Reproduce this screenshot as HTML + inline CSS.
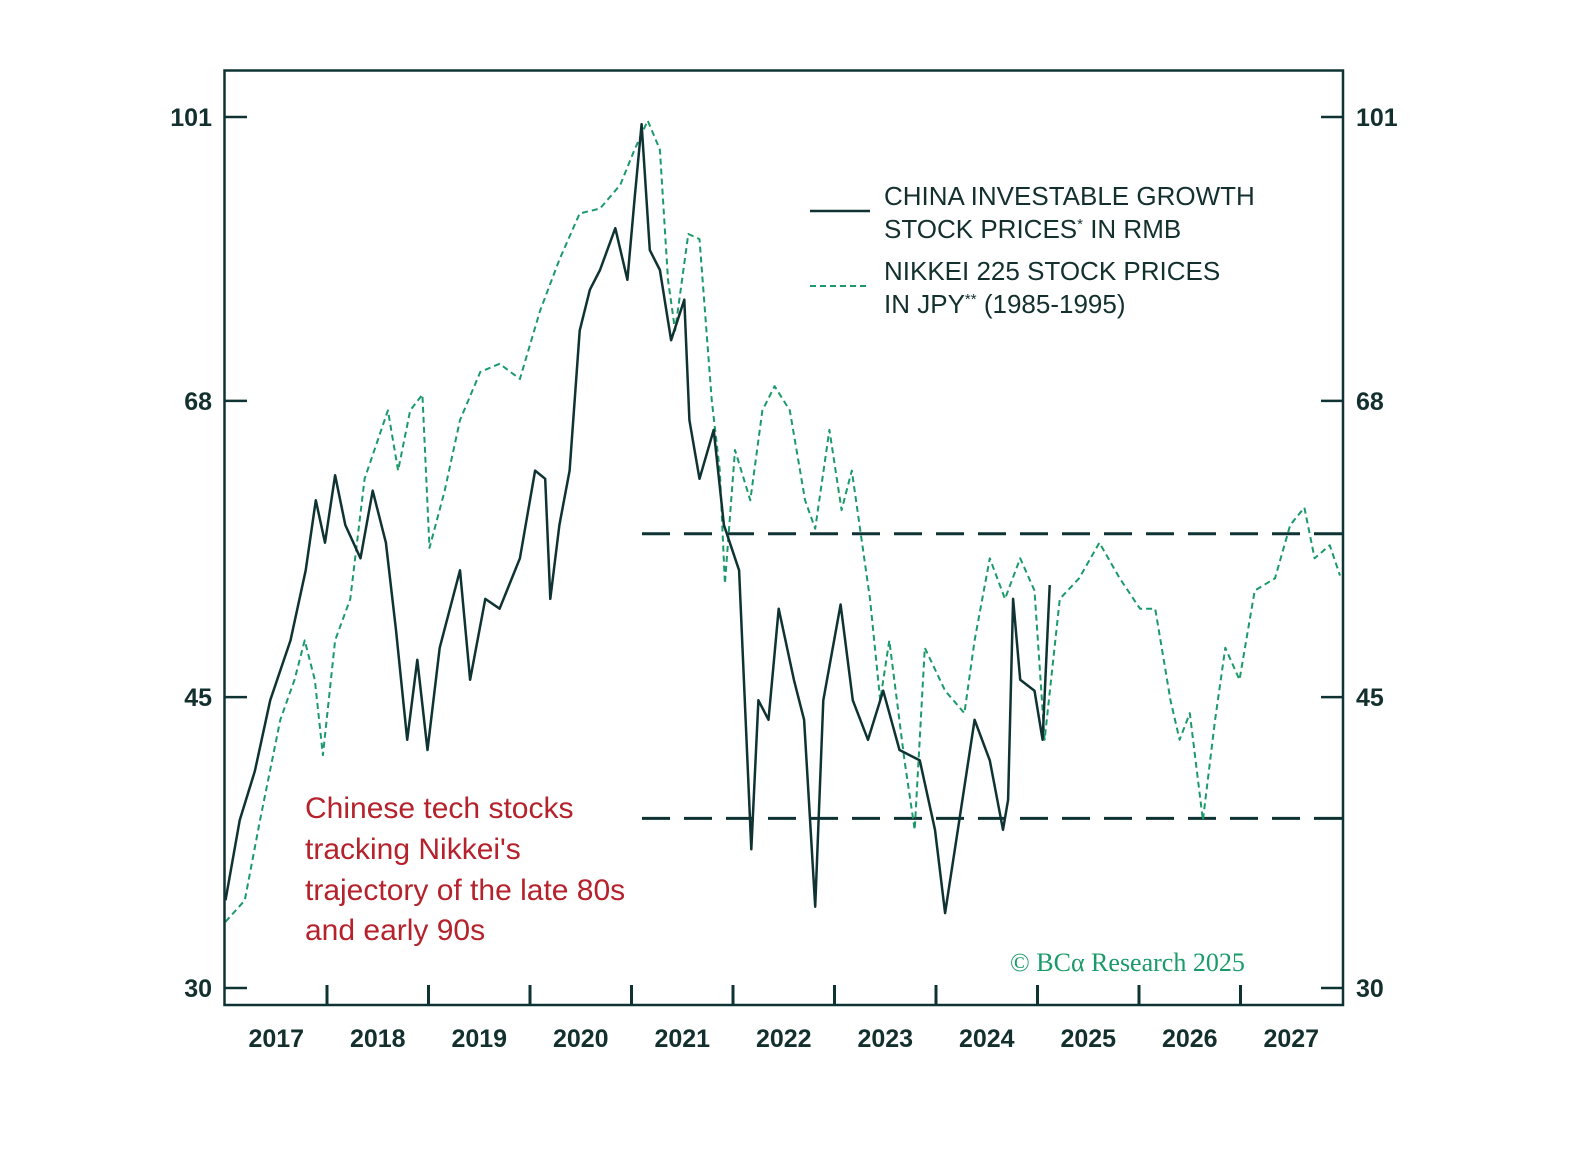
<!DOCTYPE html>
<html><head><meta charset="utf-8"><style>
html,body{margin:0;padding:0;background:#fff}
svg text{font-family:"Liberation Sans",sans-serif}
</style></head><body>
<svg id="chart" width="1588" height="1144" viewBox="0 0 1588 1144" xmlns="http://www.w3.org/2000/svg">
<rect width="1588" height="1144" fill="#fff"/>
<g id="plot"></g>
<rect x="224.5" y="70.5" width="1118.5" height="934.5" fill="none" stroke="#0f3333" stroke-width="2.5"/>
<g id="axes"></g>
<g>
<line x1="810" y1="211" x2="870" y2="211" stroke="#0f3333" stroke-width="2.5"/>
<text x="884" y="205" font-size="26" fill="#13302f">CHINA INVESTABLE GROWTH</text>
<text x="884" y="238" font-size="26" fill="#13302f">STOCK PRICES<tspan font-size="15" dy="-9">*</tspan><tspan dy="9"> IN RMB</tspan></text>
<line x1="810" y1="286" x2="870" y2="286" stroke="#1a9a6a" stroke-width="2" stroke-dasharray="6,4"/>
<text x="884" y="280" font-size="26" fill="#13302f">NIKKEI 225 STOCK PRICES</text>
<text x="884" y="313" font-size="26" fill="#13302f">IN JPY<tspan font-size="15" dy="-9">**</tspan><tspan dy="9"> (1985-1995)</tspan></text>
</g>
<g fill="#b5222b" font-size="30">
<text x="305" y="818">Chinese tech stocks</text>
<text x="305" y="859">tracking Nikkei's</text>
<text x="305" y="900">trajectory of the late 80s</text>
<text x="305" y="940">and early 90s</text>
</g>
<text x="1010" y="971" font-size="26" fill="#1a9a6a" style="font-family:'Liberation Serif',serif">© BCα Research 2025</text>
</svg>
<script>
const years = [2017,2018,2019,2020,2021,2022,2023,2024,2025,2026,2027];
const yTicks = [30,45,68,101];
const levelLines = [56.5,38.0];
const chinaT = [2017.0,2017.14,2017.29,2017.44,2017.64,2017.79,2017.89,2017.98,2018.08,2018.18,2018.33,2018.45,2018.58,2018.68,2018.79,2018.89,2018.99,2019.11,2019.31,2019.41,2019.56,2019.70,2019.90,2020.05,2020.15,2020.20,2020.29,2020.39,2020.49,2020.59,2020.69,2020.84,2020.96,2021.03,2021.10,2021.18,2021.28,2021.39,2021.52,2021.57,2021.67,2021.81,2021.91,2022.06,2022.18,2022.25,2022.35,2022.45,2022.60,2022.70,2022.81,2022.89,2023.06,2023.18,2023.33,2023.48,2023.64,2023.84,2023.99,2024.09,2024.23,2024.38,2024.53,2024.66,2024.71,2024.76,2024.83,2024.97,2025.05,2025.12];
const chinaV = [33.9,37.9,40.6,44.8,48.7,53.7,59.2,55.8,61.3,57.2,54.6,60.0,55.8,49.4,42.4,47.4,41.8,48.2,53.7,46.1,51.6,50.9,54.6,61.7,61.0,51.6,57.2,61.7,75.0,79.4,81.6,86.5,80.5,90.0,100,83.9,81.6,74.0,78.3,66.2,61.0,65.3,57.2,53.7,36.4,44.8,43.6,50.9,46.1,43.6,33.6,44.8,51.2,44.8,42.4,45.4,41.8,41.2,37.4,33.3,37.9,43.6,41.2,37.4,39.0,51.6,46.1,45.4,42.4,52.6];
const nikkeiT = [2017.0,2017.19,2017.34,2017.54,2017.68,2017.78,2017.88,2017.96,2018.08,2018.23,2018.37,2018.60,2018.70,2018.82,2018.94,2019.01,2019.16,2019.31,2019.51,2019.70,2019.90,2020.10,2020.29,2020.49,2020.69,2020.89,2021.03,2021.16,2021.28,2021.36,2021.43,2021.56,2021.67,2021.79,2021.87,2021.92,2022.02,2022.17,2022.29,2022.41,2022.56,2022.71,2022.81,2022.95,2023.07,2023.17,2023.35,2023.45,2023.54,2023.69,2023.79,2023.89,2024.09,2024.28,2024.38,2024.53,2024.68,2024.83,2024.97,2025.07,2025.22,2025.41,2025.61,2025.81,2026.01,2026.16,2026.31,2026.40,2026.50,2026.63,2026.75,2026.85,2026.99,2027.14,2027.34,2027.49,2027.63,2027.73,2027.88,2027.98];
const nikkeiV = [32.9,33.9,37.9,43.6,46.1,48.7,46.1,41.5,48.7,51.6,61.0,67.1,61.7,67.1,68.6,55.4,60.0,66.2,70.8,71.6,70.1,77.1,82.8,88.3,88.9,91.9,96.5,100.5,96.5,80.5,75.0,85.8,85.2,68.1,61.7,52.7,63.5,59.2,67.1,69.4,67.1,59.2,56.9,65.3,58.4,61.7,51.6,44.8,48.7,41.2,37.4,48.2,45.4,44.0,48.7,54.6,51.6,54.6,52.2,42.4,51.6,53.1,55.8,53.1,50.9,50.9,44.8,42.4,44.0,37.9,43.6,48.2,46.1,52.2,53.1,57.2,58.6,54.6,55.6,53.3];

const NS="http://www.w3.org/2000/svg";
const X0=225.5, PX_PER_YEAR=101.5;
function xs(t){return X0+(t-2017)*PX_PER_YEAR;}
function ys(v){return 988-Math.log(v/30)*717.5;}
function mk(tag,attrs,parent){const e=document.createElementNS(NS,tag);for(const k in attrs)e.setAttribute(k,attrs[k]);parent.appendChild(e);return e;}
const plot=document.getElementById('plot'), axes=document.getElementById('axes');

levelLines.forEach((v,i)=>{
  const l=mk('line',{x1:642,x2:1343,y1:ys(v),y2:ys(v),stroke:'#0f3333','stroke-width':3,'stroke-dasharray':'28,14'},plot);
  
  
});
function path(T,V){return T.map((t,i)=>(i?'L':'M')+xs(t).toFixed(1)+','+ys(V[i]).toFixed(1)).join('');}
const pn=mk('path',{d:path(nikkeiT,nikkeiV),fill:'none',stroke:'#1a9a6a','stroke-width':2,'stroke-dasharray':'6,4','stroke-linejoin':'round'},plot);


const pc=mk('path',{d:path(chinaT,chinaV),fill:'none',stroke:'#0f3333','stroke-width':2.5,'stroke-linejoin':'round'},plot);



yTicks.forEach(v=>{
  const y=ys(v);
  const a=mk('line',{x1:224,x2:247,y1:y,y2:y,stroke:'#0f3333','stroke-width':2.5},axes);
  
  
  const b=mk('line',{x1:1321,x2:1343,y1:y,y2:y,stroke:'#0f3333','stroke-width':2.5},axes);
  
  
  const t1=mk('text',{x:212,y:y+9,'text-anchor':'end','font-size':25,'font-weight':'bold',fill:'#13302f'},axes);
  t1.textContent=v;
  
  
  const t2=mk('text',{x:1356,y:y+9,'font-size':25,'font-weight':'bold',fill:'#13302f'},axes);
  t2.textContent=v;
  
  
});
years.forEach(yr=>{
  if(yr>2017){
    const tk=mk('line',{x1:xs(yr),x2:xs(yr),y1:985,y2:1005,stroke:'#0f3333','stroke-width':3},axes);
    
    
  }
  const t=mk('text',{x:xs(yr+0.5),y:1047,'text-anchor':'middle','font-size':25,'font-weight':'bold',fill:'#13302f'},axes);
  t.textContent=yr;
  
  
});
</script>
</body></html>
